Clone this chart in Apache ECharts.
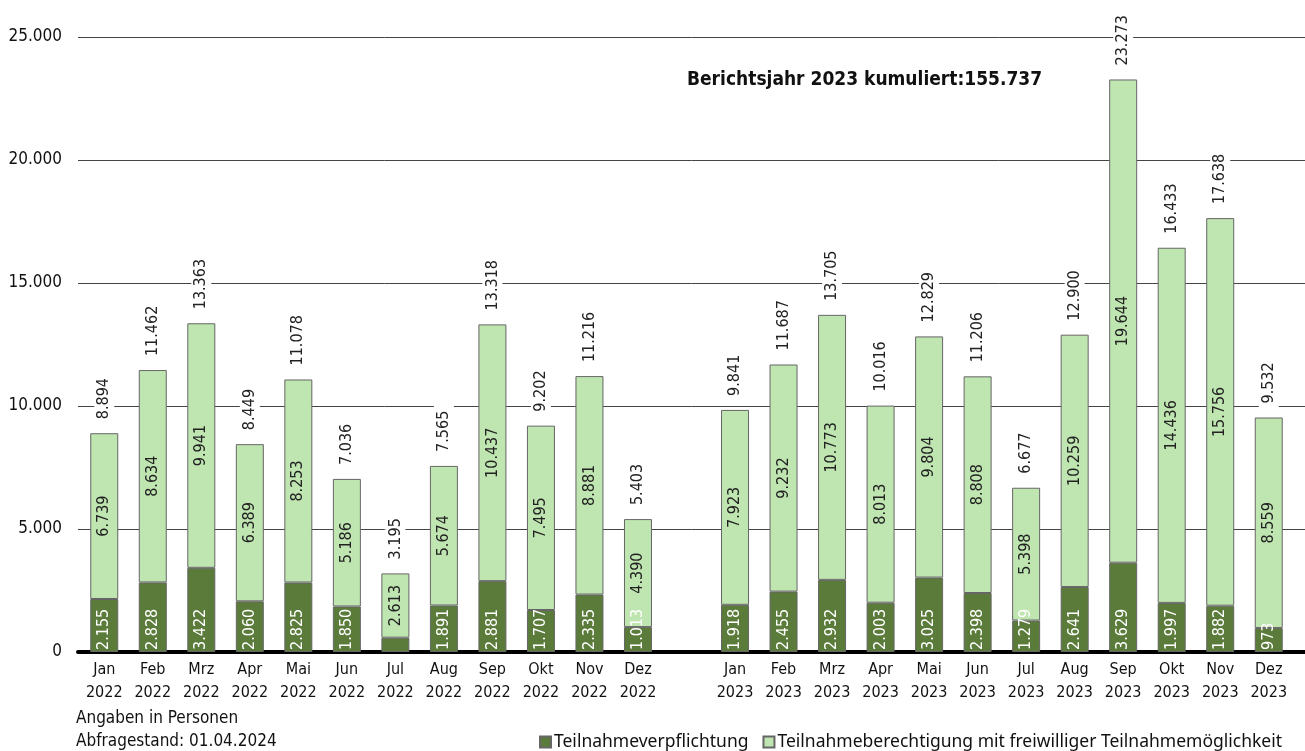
<!DOCTYPE html>
<html>
<head>
	<meta charset="utf-8" />
	<script src="https://cdn.jsdelivr.net/npm/echarts@6/dist/echarts.min.js"></script>
	<style>
		html, body { margin: 0; padding: 0; background: #fff; }
		#container { width: 1305px; height: 751px; }
	</style>
</head>
<body>
<div id="container"></div>
<script>
	// Daten aus der Grafik
	var monate = ['Jan', 'Feb', 'Mrz', 'Apr', 'Mai', 'Jun', 'Jul', 'Aug', 'Sep', 'Okt', 'Nov', 'Dez'];
	var jahre = ['2022', '2023'];
	var pflicht2022 = [2155, 2828, 3422, 2060, 2825, 1850, 582, 1891, 2881, 1707, 2335, 1013];
	var frei2022 = [6739, 8634, 9941, 6389, 8253, 5186, 2613, 5674, 10437, 7495, 8881, 4390];
	var pflicht2023 = [1918, 2455, 2932, 2003, 3025, 2398, 1279, 2641, 3629, 1997, 1882, 973];
	var frei2023 = [7923, 9232, 10773, 8013, 9804, 8808, 5398, 10259, 19644, 14436, 15756, 8559];
	var yTicks = [0, 5000, 10000, 15000, 20000, 25000];

	var NARROW = '"Liberation Sans Narrow", "DejaVu Sans Condensed", sans-serif';
	var LABELFONT = '"DejaVu Sans Condensed", "DejaVu Sans", sans-serif';

	function fmt(n) {
		return String(n).replace(/\B(?=(\d{3})+(?!\d))/g, '.');
	}

	// Kategorien mit einer Leerspalte zwischen den Jahren
	var kategorien = [];
	monate.forEach(function (m) { kategorien.push(m + '\n' + jahre[0]); });
	kategorien.push('');
	monate.forEach(function (m) { kategorien.push(m + '\n' + jahre[1]); });

	var pflicht = pflicht2022.concat(['-'], pflicht2023);
	var frei = frei2022.concat(['-'], frei2023);
	var summe = pflicht.map(function (v, i) { return v === '-' ? '-' : v + frei[i]; });
	var nullwerte = summe.map(function (v) { return v === '-' ? '-' : 0; });
	var kumuliert2023 = 0;
	pflicht2023.forEach(function (v, i) { kumuliert2023 += v + frei2023[i]; });

	var chart = echarts.init(document.getElementById('container'));

	var options = {
		animation: false,
		title: [
			{
				text: 'Berichtsjahr 2023 kumuliert:' + fmt(kumuliert2023),
				left: 682, top: 66,
				textStyle: { fontFamily: NARROW, fontSize: 19, fontWeight: 'bold', color: '#111' }
			},
			{
				text: 'Angaben in Personen\nAbfragestand: 01.04.2024',
				left: 71, top: 702,
				textStyle: { fontFamily: NARROW, fontSize: 17, fontWeight: 'normal', color: '#111', lineHeight: 23 }
			}
		],
		legend: {
			data: ['Teilnahmeverpflichtung', 'Teilnahmeberechtigung mit freiwilliger Teilnahmemöglichkeit'],
			left: 534, top: 728,
			icon: 'rect',
			itemWidth: 11, itemHeight: 11,
			itemGap: 14,
			textStyle: { fontFamily: '"Noto Sans", sans-serif', fontSize: 17.5, color: '#111', padding: [0, 0, 0, -2] }
		},
		grid: [
			{ left: 78, right: 0, top: 37, bottom: 99 },
			{ left: 80, right: 12, top: 37, bottom: 99 }
		],
		xAxis: [
			{
				type: 'category', gridIndex: 0, data: kategorien,
				axisLine: { lineStyle: { color: '#000', width: 4 } },
				axisTick: { show: false }, axisLabel: { show: false }
			},
			{
				type: 'category', gridIndex: 1, data: kategorien,
				axisLine: { show: false }, axisTick: { show: false },
				axisLabel: {
					interval: 0, margin: 6,
					fontFamily: NARROW, fontSize: 16, color: '#111', lineHeight: 23
				}
			}
		],
		yAxis: [
			{
				type: 'value', gridIndex: 0, min: 0, max: 25000, interval: 5000,
				axisLine: { show: false }, axisTick: { show: false },
				axisLabel: {
					margin: 16, fontFamily: NARROW, fontSize: 17, color: '#111',
					formatter: function (v) { return yTicks.indexOf(v) >= 0 ? fmt(v) : ''; }
				},
				splitLine: { lineStyle: { color: '#444', width: 1 } }
			},
			{
				type: 'value', gridIndex: 1, min: 0, max: 25000, interval: 5000,
				axisLine: { show: false }, axisTick: { show: false },
				axisLabel: { show: false }, splitLine: { show: false }
			}
		],
		series: [
			{
				name: 'Teilnahmeverpflichtung',
				type: 'bar', stack: 'gesamt', xAxisIndex: 1, yAxisIndex: 1,
				barWidth: 28,
				data: pflicht,
				itemStyle: { color: '#5b7b3a', borderColor: '#666', borderWidth: 1 },
				label: {
					show: true, position: 'insideBottom', rotate: 90,
					align: 'left', verticalAlign: 'middle', distance: 2,
					fontFamily: LABELFONT, fontSize: 16, color: '#fff',
					formatter: function (p) { return p.value < 600 ? '' : fmt(p.value); }
				}
			},
			{
				name: 'Teilnahmeberechtigung mit freiwilliger Teilnahmemöglichkeit',
				type: 'bar', stack: 'gesamt', xAxisIndex: 1, yAxisIndex: 1,
				barWidth: 28,
				data: frei,
				itemStyle: { color: '#bfe5b1', borderColor: '#666', borderWidth: 1 },
				label: {
					show: true, position: 'inside', rotate: 90,
					fontFamily: LABELFONT, fontSize: 16, color: '#222',
					formatter: function (p) { return fmt(p.value); }
				}
			},
			{
				name: 'Summe',
				type: 'bar', stack: 'gesamt', xAxisIndex: 1, yAxisIndex: 1,
				barWidth: 28,
				data: nullwerte,
				itemStyle: { color: 'transparent' },
				label: {
					show: true, position: 'top', rotate: 90,
					align: 'left', verticalAlign: 'middle', distance: 9,
					fontFamily: LABELFONT, fontSize: 16, color: '#222',
					backgroundColor: '#fff', padding: [2, 5],
					formatter: function (p) { return fmt(summe[p.dataIndex]); }
				}
			}
		]
	};

	chart.setOption(options);
</script>
</body>
</html>
